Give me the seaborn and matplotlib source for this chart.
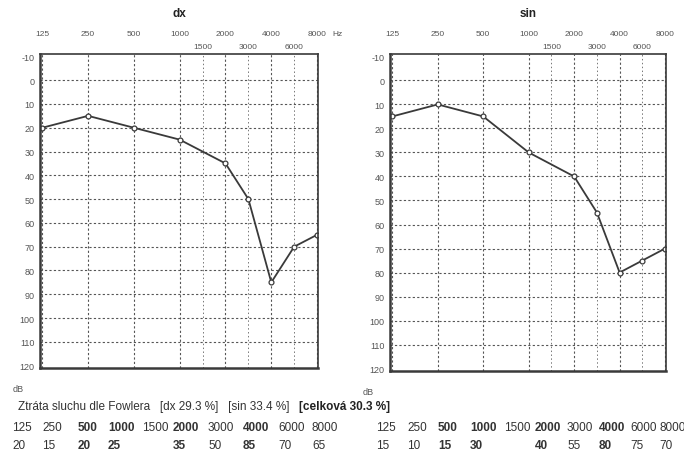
import numpy as np
import pandas as pd
import matplotlib
matplotlib.use("Agg")
import matplotlib.pyplot as plt
import matplotlib.transforms as mtransforms
import seaborn as sns

# --- dati (audiogramma) ---
freqs = [125, 250, 500, 1000, 1500, 2000, 3000, 4000, 6000, 8000]
main_freqs = [125, 250, 500, 1000, 2000, 4000, 8000]
half_freqs = [1500, 3000, 6000]
dx_db = [20, 15, 20, 25, np.nan, 35, 50, 85, 70, 65]
sin_db = [15, 10, 15, 30, np.nan, 40, 55, 80, 75, 70]
db_ticks = list(range(-10, 130, 10))
bold_freqs = [500, 1000, 2000, 4000]
fowler_dx = 29.3
fowler_sin = 33.4
fowler_total = 30.3

sns.set_style("white")
plt.rcParams["font.family"] = ["Liberation Sans Narrow", "Liberation Sans", "DejaVu Sans"]

ink = "#3a3a3a"


def pos(f):
    # audiogram spacing: octaves evenly spaced, half-octaves in the middle
    return np.round(np.log2(np.asarray(f, dtype=float) / 125) * 2) / 2


fig = plt.figure(figsize=(6.84, 4.56), dpi=100)
fig.patch.set_facecolor("white")

ax_l = fig.add_axes([40 / 684, 1 - 369 / 456, 278 / 684, 314 / 456])
ax_r = fig.add_axes([390 / 684, 1 - 372 / 456, 276 / 684, 317 / 456])


def draw_panel(ax, values, title, hz=True):
    df = pd.DataFrame({"pos": pos(freqs), "db": values}).dropna()
    sns.lineplot(data=df, x="pos", y="db", ax=ax, color=ink, linewidth=1.3,
                 marker="o", markersize=3.5, markerfacecolor="white",
                 markeredgecolor=ink, markeredgewidth=0.9)
    ax.set_xlim(-0.05, 6.02)
    ax.set_ylim(121, -11)
    ax.set_xlabel("")
    ax.set_ylabel("")
    ax.set_xticks([])
    ax.set_xticks([], minor=True)
    ax.set_yticks(db_ticks)
    ax.set_yticklabels([str(v) for v in db_ticks], fontsize=6.5, color="#555")
    ax.set_yticks(np.arange(-10, 121, 2), minor=True)
    ax.tick_params(axis="y", which="major", direction="in", length=4, width=0.8,
                   color=ink, pad=4)
    ax.tick_params(axis="y", which="minor", direction="in", length=2, width=0.6,
                   color=ink)
    for f in main_freqs:
        ax.axvline(pos(f), color="#555", lw=0.8, ls=(0, (2, 2)), zorder=0)
    for f in half_freqs:
        ax.axvline(pos(f), color="#777", lw=0.7, ls=(0, (1.5, 2.5)), zorder=0)
    for v in db_ticks[1:-1]:
        ax.axhline(v, color="#555", lw=0.8, ls=(0, (2, 2)), zorder=0)
    for s in ax.spines.values():
        s.set_color(ink)
        s.set_linewidth(1.2)
    ax.spines["left"].set_linewidth(1.8)
    ax.spines["bottom"].set_linewidth(1.8)

    trans = mtransforms.blended_transform_factory(ax.transData, ax.transAxes)
    for f in main_freqs:
        ax.text(pos(f), 1.055, str(f), transform=trans, ha="center", va="bottom",
                fontsize=6, color="#555")
    for f in half_freqs:
        ax.text(pos(f), 1.012, str(f), transform=trans, ha="center", va="bottom",
                fontsize=6, color="#555")
    if hz:
        ax.text(1.05, 1.055, "Hz", transform=ax.transAxes, ha="left",
                va="bottom", fontsize=6, color="#555")
    ax.text(0.5, 1.11, title, transform=ax.transAxes, ha="center",
            va="bottom", fontsize=8.5, fontweight="bold", color="#222")
    ax.text(-0.08, -0.05, "dB", transform=ax.transAxes, ha="center",
            va="top", fontsize=6.5, color="#555")


draw_panel(ax_l, dx_db, "dx")
draw_panel(ax_r, sin_db, "sin", hz=False)

# --- testo in basso ---
fs = 8.5
t1 = fig.text(18 / 684, 1 - 410 / 456,
              f"Ztráta sluchu dle Fowlera   [dx {fowler_dx} %]   [sin {fowler_sin} %]",
              fontsize=fs, color="#333", va="baseline")
fig.text(0, 0, "")
plt.annotate(f"[celková {fowler_total} %]", xy=(1, 0), xycoords=t1,
             xytext=(7, 0), textcoords="offset points", fontsize=fs,
             color="#222", fontweight="bold", va="bottom", ha="left",
             annotation_clip=False)

col_l = [12, 42, 78, 108, 142, 173, 208, 243, 278, 312]
col_r = [376, 407, 438, 470, 504, 535, 567, 599, 630, 659]


def fmt(v):
    return "" if np.isnan(v) else str(int(v))


for cols, values in [(col_l, dx_db), (col_r, sin_db)]:
    for x, f, v in zip(cols, freqs, values):
        w = "bold" if f in bold_freqs else "normal"
        fig.text(x / 684, 1 - 428 / 456, str(f), fontsize=fs, color="#333",
                 fontweight=w, va="center")
        fig.text(x / 684, 1 - 446 / 456, fmt(v), fontsize=fs, color="#333",
                 fontweight=w, va="center")

fig.savefig("out.png", dpi=100, facecolor="white")
